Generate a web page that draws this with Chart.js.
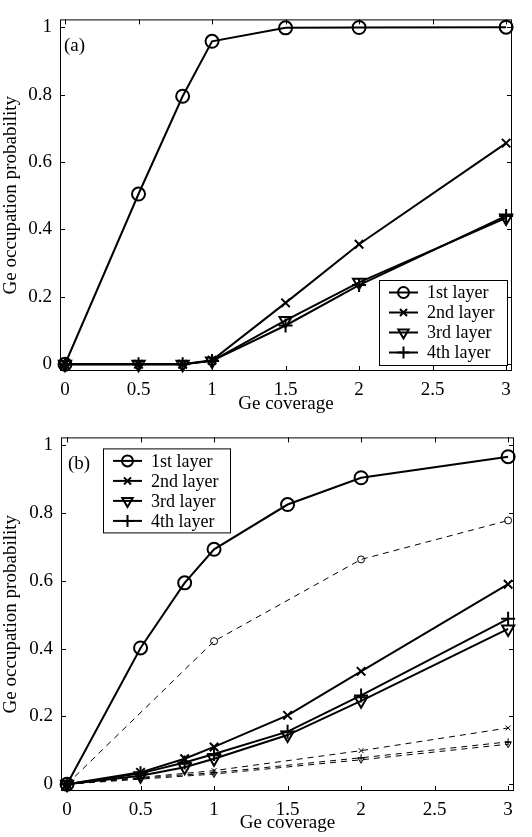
<!DOCTYPE html>
<html>
<head>
<meta charset="utf-8">
<script src="https://cdn.jsdelivr.net/npm/chart.js@4/dist/chart.umd.min.js"></script>
<style>
  body { margin: 0; background: #fff; }
  canvas { display: block; }
</style>
</head>
<body>
<canvas id="chartA" width="532" height="418"></canvas>
<canvas id="chartB" width="532" height="419"></canvas>
<script>
// coverage values (x)
const coverage = [0, 0.5, 0.8, 1, 1.5, 2, 3];
const coverageDash1 = [0, 1, 2, 3];
const coverageDash = [0, 0.5, 1, 2, 3];
const xTicks = [0, 0.5, 1, 1.5, 2, 2.5, 3];
const yTicks = [0, 0.2, 0.4, 0.6, 0.8, 1];
const layerNames = ['1st layer', '2nd layer', '3rd layer', '4th layer'];

// panel (a)
const a1st = [0, 0.505, 0.795, 0.958, 0.998, 0.999, 1.0];
const a2nd = [0, 0, 0, 0.012, 0.182, 0.356, 0.656];
const a3rd = [0, 0, 0, 0.01, 0.13, 0.243, 0.434];
const a4th = [0, 0, 0, 0.01, 0.115, 0.235, 0.44];

// panel (b), solid
const b1st = [0, 0.402, 0.594, 0.693, 0.825, 0.904, 0.966];
const b2nd = [0, 0.035, 0.075, 0.11, 0.203, 0.333, 0.59];
const b3rd = [0, 0.025, 0.05, 0.075, 0.145, 0.246, 0.458];
const b4th = [0, 0.032, 0.064, 0.089, 0.155, 0.262, 0.488];
// panel (b), dashed
const b1stDash = [0, 0.422, 0.663, 0.778];
const b2ndDash = [0, 0.02, 0.04, 0.099, 0.166];
const b3rdDash = [0, 0.015, 0.03, 0.072, 0.118];
const b4thDash = [0, 0.018, 0.034, 0.078, 0.125];

const markers = [
  {pointStyle: 'circle', rotation: 0, radius: 6.5},
  {pointStyle: 'crossRot', rotation: 0, radius: 6},
  {pointStyle: 'triangle', rotation: 180, radius: 7},
  {pointStyle: 'cross', rotation: 0, radius: 7}
];
const serif = 'Liberation Serif';

function pts(xs, ys) {
  return xs.map((x, i) => ({x: x, y: ys[i]}));
}

function solid(xs, ys, k) {
  return {
    data: pts(xs, ys),
    showLine: true,
    borderColor: '#000',
    borderWidth: 2,
    backgroundColor: 'rgba(0,0,0,0)',
    pointStyle: markers[k].pointStyle,
    pointRotation: markers[k].rotation,
    pointRadius: markers[k].radius,
    pointBorderWidth: 2,
    pointBorderColor: '#000',
    pointBackgroundColor: 'rgba(0,0,0,0)',
    clip: false
  };
}

function dashed(xs, ys, k) {
  return {
    data: pts(xs, ys),
    showLine: true,
    borderColor: '#000',
    borderWidth: 1,
    borderDash: [6, 5],
    backgroundColor: 'rgba(0,0,0,0)',
    pointStyle: markers[k].pointStyle,
    pointRotation: markers[k].rotation,
    pointRadius: 3.5,
    pointBorderWidth: 1,
    pointBorderColor: '#000',
    pointBackgroundColor: 'rgba(0,0,0,0)',
    clip: false
  };
}

// box, inner ticks, panel label and matlab style legend
const frame = {
  id: 'frame',
  afterDatasetsDraw(chart, args, opts) {
    const {ctx, chartArea: a, scales: {x, y}} = chart;
    ctx.save();
    ctx.strokeStyle = '#000';
    ctx.lineWidth = 1;
    ctx.strokeRect(a.left + 0.5, a.top + 0.5, a.width - 1, a.height - 1);
    ctx.beginPath();
    xTicks.forEach(v => {
      const px = Math.round(x.getPixelForValue(v)) + 0.5;
      ctx.moveTo(px, a.bottom); ctx.lineTo(px, a.bottom - 5);
      ctx.moveTo(px, a.top); ctx.lineTo(px, a.top + 5);
    });
    yTicks.forEach(v => {
      const py = Math.round(y.getPixelForValue(v)) + 0.5;
      ctx.moveTo(a.left, py); ctx.lineTo(a.left + 5, py);
      ctx.moveTo(a.right, py); ctx.lineTo(a.right - 5, py);
    });
    ctx.stroke();

    ctx.fillStyle = '#000';
    ctx.font = '19px "' + serif + '"';
    ctx.textBaseline = 'middle';
    ctx.fillText(opts.label, a.left + opts.labelDx, a.top + 27);

    // legend
    const lg = opts.legend;
    const bx = lg.fromRight ? a.right - lg.dx : a.left + lg.dx;
    const by = lg.fromBottom ? a.bottom - lg.dy : a.top + lg.dy;
    ctx.fillStyle = '#fff';
    ctx.fillRect(bx, by, lg.w, lg.h);
    ctx.strokeRect(bx + 0.5, by + 0.5, lg.w, lg.h);
    ctx.font = '18px "' + serif + '"';
    layerNames.forEach((name, i) => {
      const ry = by + 12.5 + i * 20;
      ctx.strokeStyle = '#000';
      ctx.lineWidth = 2;
      ctx.beginPath();
      ctx.moveTo(bx + 10, ry); ctx.lineTo(bx + 39, ry);
      ctx.stroke();
      ctx.fillStyle = 'rgba(0,0,0,0)';
      Chart.helpers.drawPoint(ctx, {
        pointStyle: markers[i].pointStyle,
        rotation: markers[i].rotation,
        radius: markers[i].radius - 1,
        borderWidth: 2
      }, bx + 24.5, ry);
      ctx.fillStyle = '#000';
      ctx.fillText(name, bx + 48, ry + 1);
    });
    ctx.restore();
  }
};

function makeChart(id, datasets, xmin, opts, padRight, xHeight) {
  return new Chart(document.getElementById(id), {
    type: 'scatter',
    data: {datasets: datasets},
    plugins: [frame],
    options: {
      responsive: false,
      animation: false,
      layout: {padding: {left: 0, right: padRight, top: opts.top, bottom: 0}},
      plugins: {legend: {display: false}, tooltip: {enabled: false}, frame: opts},
      scales: {
        x: {
          type: 'linear', min: xmin, max: 3.04,
          afterBuildTicks: s => { s.ticks = xTicks.map(v => ({value: v})); },
          afterFit: s => { s.height = xHeight; },
          grid: {display: false, drawTicks: false},
          border: {display: false},
          ticks: {color: '#000', padding: 8, font: {family: serif, size: 19},
                  callback: v => String(v)},
          title: {display: true, text: 'Ge coverage', color: '#000',
                  font: {family: serif, size: 19}, padding: {top: 0, bottom: 3}}
        },
        y: {
          type: 'linear', min: -0.02, max: 1.023,
          afterBuildTicks: s => { s.ticks = yTicks.map(v => ({value: v})); },
          afterFit: s => { s.width = opts.yWidth; },
          grid: {display: false, drawTicks: false},
          border: {display: false},
          ticks: {color: '#000', padding: 8, font: {family: serif, size: 19},
                  callback: v => String(v)},
          title: {display: true, text: 'Ge occupation probability', color: '#000',
                  font: {family: serif, size: 19}, padding: {top: 0, bottom: 2}}
        }
      }
    }
  });
}

makeChart('chartA', [
  solid(coverage, a1st, 0),
  solid(coverage, a2nd, 1),
  solid(coverage, a3rd, 2),
  solid(coverage, a4th, 3)
], -0.034, {
  label: '(a)', labelDx: 4, top: 7, yWidth: 60,
  legend: {fromRight: true, dx: 133, fromBottom: true, dy: 91, w: 128, h: 85}
}, 20, 47);

makeChart('chartB', [
  dashed(coverageDash1, b1stDash, 0),
  dashed(coverageDash, b2ndDash, 1),
  dashed(coverageDash, b3rdDash, 2),
  dashed(coverageDash, b4thDash, 3),
  solid(coverage, b1st, 0),
  solid(coverage, b2nd, 1),
  solid(coverage, b3rd, 2),
  solid(coverage, b4th, 3)
], -0.041, {
  label: '(b)', labelDx: 7, top: 9, yWidth: 61,
  legend: {fromRight: false, dx: 42, fromBottom: false, dy: 11, w: 127, h: 84}
}, 18, 46);
</script>
</body>
</html>
